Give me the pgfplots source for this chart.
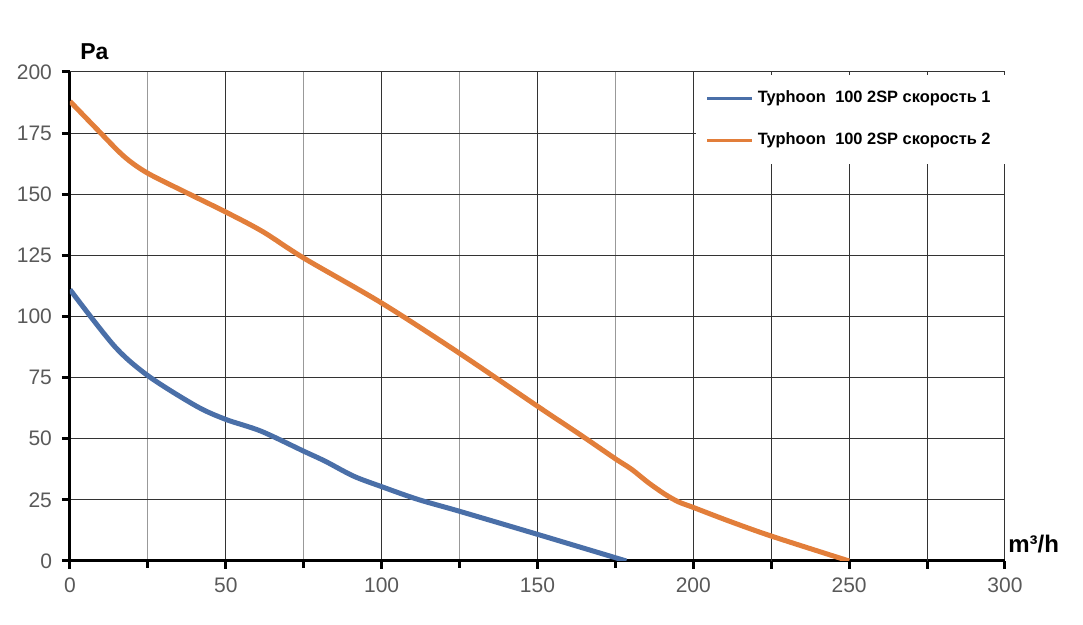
\documentclass[border=0pt]{standalone}
\usepackage{pgfplots}
\pgfplotsset{compat=1.18}
\usepackage{fontspec}
\setmainfont{Liberation Sans}
\definecolor{sblue}{RGB}{74,111,168}
\definecolor{sorange}{RGB}{226,126,58}
\definecolor{ticklab}{RGB}{89,89,89}
\begin{document}
\begin{tikzpicture}
\useasboundingbox (0,0) rectangle (541.5pt,312.5pt);
\begin{axis}[
  at={(35pt,32pt)}, anchor=south west,
  scale only axis, width=467.5pt, height=244.5pt,
  xmin=0, xmax=300, ymin=0, ymax=200,
  axis lines*=left,
  axis line style={line width=1.5pt, black},
  xtick={0,50,...,300}, minor xtick={25,75,125,175},
  extra x ticks={225,275}, extra x tick labels={},
  extra x tick style={grid=major},
  ytick={0,25,...,200},
  grid=both,
  major grid style={black!80, line width=0.5pt},
  minor grid style={black!40, line width=0.5pt},
  tick align=outside, major tick length=4pt, minor tick length=3.5pt,
  tick style={black, line width=1.5pt},
  ticklabel style={font=\fontsize{10.5}{12}\selectfont, text=ticklab},
  yticklabel style={xshift=-1.5pt},
  xticklabel style={yshift=-1pt},
  /pgf/number format/assume math mode=true,
  xlabel={m³/h},
  xlabel style={at={(rel axis cs:1,0)}, anchor=south west, font=\bfseries\fontsize{12}{14}\selectfont, inner sep=0pt, xshift=1.5pt, yshift=4pt},
  ylabel={Pa},
  ylabel style={rotate=-90, at={(rel axis cs:0,1)}, anchor=south west, font=\bfseries\fontsize{11.5}{13}\selectfont, inner sep=0pt, xshift=5pt, yshift=6pt},
  legend style={at={(rel axis cs:1,0.995)}, anchor=north east, draw=none, fill=white,
    font=\bfseries\fontsize{8.2}{10}\selectfont, inner xsep=5pt, inner ysep=6pt, row sep=9.5pt,
    cells={anchor=west}},
  legend image code/.code={\draw[#1, line width=1.5pt] (0pt,0pt) -- (22.5pt,0pt);},
]
\addplot[sblue, line width=2.5pt, smooth, tension=0.5] coordinates {
(0,111) (14.3,87.8) (25.2,75.6) (40.6,63.3) (50,57.9) (61.3,53.1) (75,44.9) (81.9,40.8)
(91,34.7) (100,30.4) (111.6,25.2) (124.8,20.4) (150,10.9) (178.5,0)};
\addlegendentry{Typhoon\hspace{0.3em} 100 2SP скорость 1}
\addplot[sorange, line width=2.5pt, smooth, tension=0.5] coordinates {
(0,188) (8.8,176.4) (17.3,165.5) (24.8,158.7) (37.6,150.5) (50.5,142.4) (62,134.6)
(75,123.9) (100,105.5) (124.8,85.1) (150,63.3) (164,51.4) (175,41.8) (180.2,37.5)
(185.5,32.1) (190.9,27.3) (195.2,24.2) (200,21.9) (211.3,16.4) (225,10.2) (250,0)};
\addlegendentry{Typhoon\hspace{0.3em} 100 2SP скорость 2}
\end{axis}
\end{tikzpicture}
\end{document}
